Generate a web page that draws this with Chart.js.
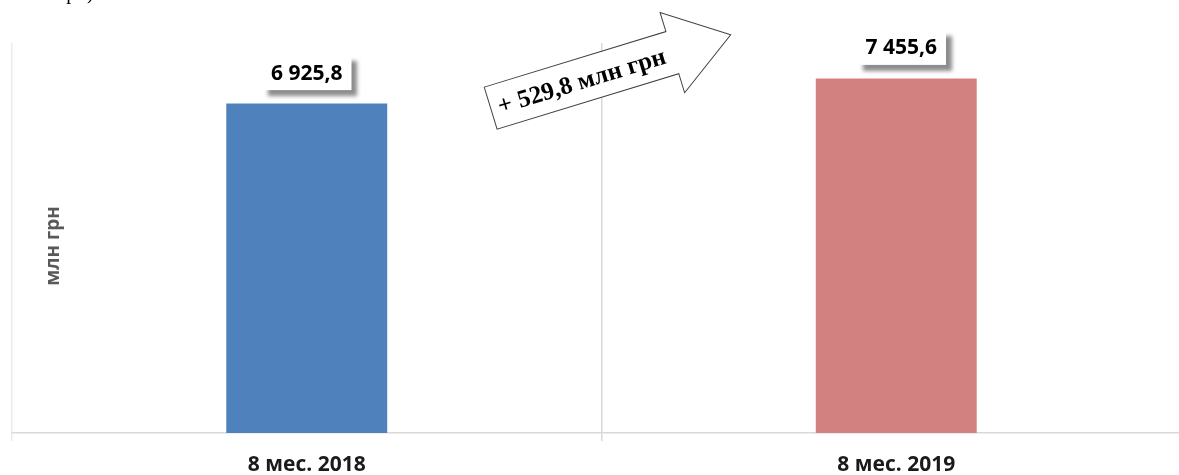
<!DOCTYPE html>
<html>
<head>
<meta charset="utf-8">
<script src="https://cdn.jsdelivr.net/npm/chart.js@4"></script>
<style>
    html, body { margin: 0; padding: 0; background: #fff; overflow: hidden; }
    #wrap { position: relative; width: 1195px; height: 475px; }
</style>
</head>
<body>
<div id="wrap"><canvas id="chart"></canvas></div>
<script>
// Дані
const categories = ['8 мес. 2018', '8 мес. 2019'];
const values = [6925.8, 7455.6];
const barColors = ['#4f81bd', '#d38080'];
const axisTitle = 'млн грн';

const fmt = (v) => v.toFixed(1).replace('.', ',').replace(/\B(?=(\d{3})+(?!\d))/g, ' ');

// підписи значень у білих рамках з тінню
const valueBoxes = {
    id: 'valueBoxes',
    afterDatasetsDraw(chart, args, opts) {
        const ctx = chart.ctx;
        const meta = chart.getDatasetMeta(0);
        ctx.save();
        ctx.font = 'bold 21px "Open Sans"';
        ctx.textAlign = 'center';
        ctx.textBaseline = 'middle';
        meta.data.forEach((bar, i) => {
            const txt = fmt(values[i]);
            const cx = bar.x + (opts.shift[i] || 0);
            const cy = bar.y - 31;
            const w = ctx.measureText(txt).width + 18;
            const h = 35;
            ctx.save();
            ctx.shadowColor = 'rgba(0,0,0,0.45)';
            ctx.shadowBlur = 4;
            ctx.shadowOffsetX = 6;
            ctx.shadowOffsetY = 6;
            ctx.fillStyle = '#fff';
            ctx.fillRect(cx - w / 2, cy - h / 2, w, h);
            ctx.restore();
            ctx.fillStyle = '#000';
            ctx.fillText(txt, cx, cy + 1);
        });
        ctx.restore();
    }
};

// стрілка з приростом + назва осі + обрізаний текст зверху
const extras = {
    id: 'extras',
    afterDraw(chart) {
        const ctx = chart.ctx;
        const area = chart.chartArea;
        const x = chart.scales.x;
        const y = chart.scales.y;

        // назва осі Y
        ctx.save();
        ctx.translate(area.left + 42, (area.top + area.bottom) / 2 + 8);
        ctx.rotate(-Math.PI / 2);
        ctx.font = 'bold 19px "Open Sans"';
        ctx.fillStyle = '#595959';
        ctx.textAlign = 'center';
        ctx.textBaseline = 'middle';
        ctx.fillText(axisTitle, 0, 0);
        ctx.restore();

        // залишок підпису над графіком
        ctx.save();
        ctx.font = '20px "Liberation Serif"';
        ctx.fillStyle = '#000';
        ctx.textBaseline = 'alphabetic';
        ctx.fillText('грн)', 58, -1);
        ctx.restore();

        // стрілка
        const cx = (x.getPixelForValue(0) + x.getPixelForValue(1)) / 2 - 20;
        const cy = y.getPixelForValue(values[1]) + 2;
        ctx.save();
        ctx.translate(cx, cy);
        ctx.rotate(-17 * Math.PI / 180);
        ctx.beginPath();
        ctx.moveTo(-95, -22);
        ctx.lineTo(95, -22);
        ctx.lineTo(95, -42);
        ctx.lineTo(156, 0);
        ctx.lineTo(95, 42);
        ctx.lineTo(95, 22);
        ctx.lineTo(-95, 22);
        ctx.closePath();
        ctx.fillStyle = '#fff';
        ctx.fill();
        ctx.strokeStyle = '#404040';
        ctx.lineWidth = 1;
        ctx.stroke();
        ctx.font = 'bold 25px "Liberation Serif"';
        ctx.fillStyle = '#000';
        ctx.textAlign = 'center';
        ctx.textBaseline = 'middle';
        ctx.fillText('+ ' + fmt(values[1] - values[0]) + ' млн грн', 0, 2);
        ctx.restore();
    }
};

new Chart(document.getElementById('chart'), {
    type: 'bar',
    data: {
        labels: categories,
        datasets: [{
            data: values,
            backgroundColor: barColors,
            borderWidth: 0,
            categoryPercentage: 1,
            barPercentage: 0.273
        }]
    },
    options: {
        responsive: true,
        maintainAspectRatio: false,
        animation: false,
        layout: { padding: { top: 43, left: 12, right: 4, bottom: 0 } },
        plugins: {
            legend: { display: false },
            tooltip: { enabled: false },
            valueBoxes: { shift: [0, 5] }
        },
        scales: {
            x: {
                afterFit: (s) => { s.height = 42; },
                border: { color: '#d9d9d9', width: 1.5 },
                grid: {
                    offset: true,
                    color: (c) => c.index === 0 ? '#ececec' : '#d9d9d9',
                    lineWidth: 1.5,
                    tickLength: 8
                },
                ticks: {
                    color: '#1a1a1a',
                    font: { family: 'Open Sans', size: 21, weight: 'bold' },
                    padding: 11
                }
            },
            y: {
                display: false,
                min: 0,
                max: 8200
            }
        }
    },
    plugins: [valueBoxes, extras]
});
</script>
</body>
</html>
